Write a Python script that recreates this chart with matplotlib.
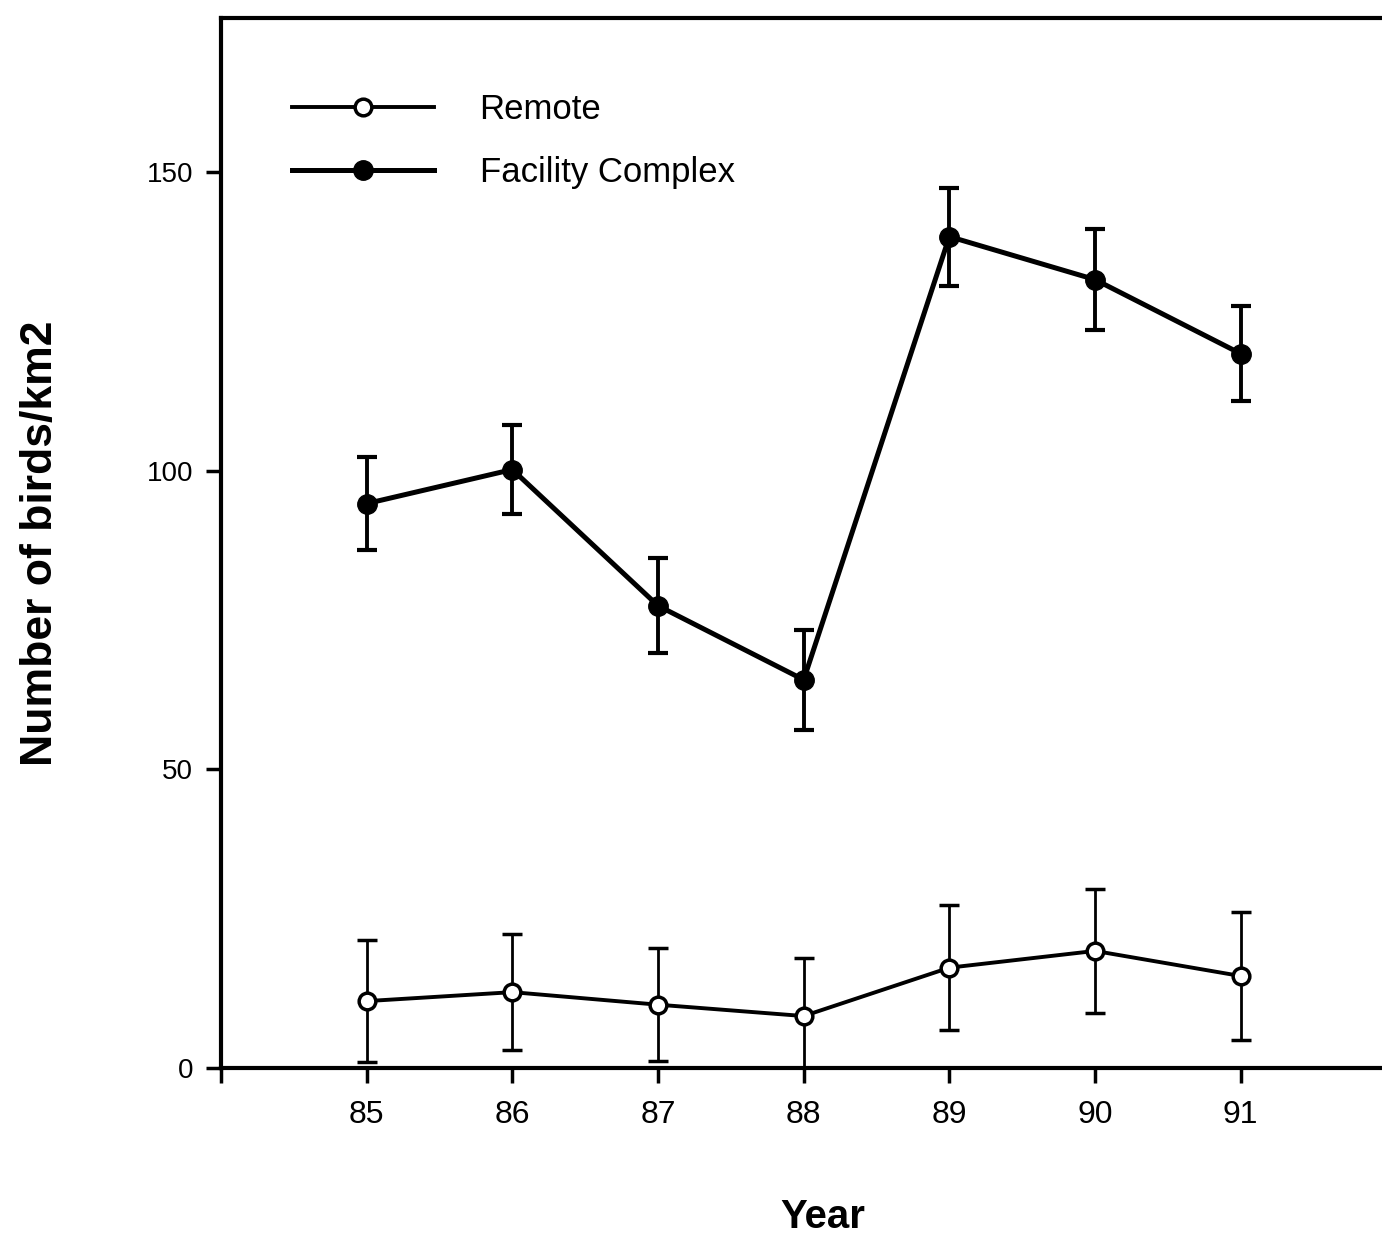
import matplotlib.pyplot as plt
from matplotlib.lines import Line2D

plt.rcParams['font.family'] = ['Liberation Sans', 'DejaVu Sans']

# survey years (19xx) and densities
years = [85, 86, 87, 88, 89, 90, 91]
remote = [11.2, 12.7, 10.6, 8.7, 16.8, 19.6, 15.4]
remote_err = [10.2, 9.7, 9.5, 9.7, 10.5, 10.4, 10.7]
facility = [94.5, 100.2, 77.4, 65.0, 139.2, 132.0, 119.6]
facility_err = [7.8, 7.5, 8.0, 8.4, 8.2, 8.4, 8.0]

fig = plt.figure(figsize=(13.82, 12.40), dpi=100)
ax = fig.add_axes([221 / 1382, 172 / 1240, (1424 - 221) / 1382, (1068 - 18) / 1240])

# error bars first, then the lines and markers on top
ax.errorbar(years, remote, yerr=remote_err, fmt='none', ecolor='black',
            elinewidth=2.0, capsize=7, capthick=2.5)
ax.errorbar(years, facility, yerr=facility_err, fmt='none', ecolor='black',
            elinewidth=2.8, capsize=7, capthick=3.0)
ax.plot(years, remote, color='black', lw=2.8, marker='o', ms=12,
        mfc='white', mec='black', mew=2.5, zorder=3)
ax.plot(years, facility, color='black', lw=3.6, marker='o', ms=14,
        mfc='black', mec='black', zorder=3)

ax.set_xlim(84, 84 + (1424 - 221) / 145.67)
ax.set_ylim(0, 175.8)
ax.set_xticks([84] + years)
ax.set_xticklabels([''] + [str(y) for y in years])
ax.set_yticks([0, 50, 100, 150])

for side in ['left', 'bottom', 'top', 'right']:
    ax.spines[side].set_linewidth(3.0)

ax.tick_params(axis='both', direction='out', length=11, width=2.5)
ax.tick_params(axis='x', labelsize=23, pad=12)
ax.tick_params(axis='y', labelsize=20, pad=9)

ax.set_xlabel('Year', fontsize=29, fontweight='bold', labelpad=49)
ax.set_ylabel('Number of birds/km2', fontsize=32, fontweight='bold', labelpad=62)

handles = [
    Line2D([], [], color='black', lw=2.8, marker='o', ms=12, mfc='white', mec='black', mew=2.5),
    Line2D([], [], color='black', lw=3.6, marker='o', ms=14, mfc='black', mec='black'),
]
ax.legend(handles, ['Remote', 'Facility Complex'], loc='upper left',
          bbox_to_anchor=(292 / 1382, 1 - 93 / 1240), bbox_transform=fig.transFigure,
          frameon=False, fontsize=25, handlelength=4.1, handletextpad=1.3,
          labelspacing=0.87, borderpad=0, borderaxespad=0)

fig.savefig('out.png', dpi=100)
